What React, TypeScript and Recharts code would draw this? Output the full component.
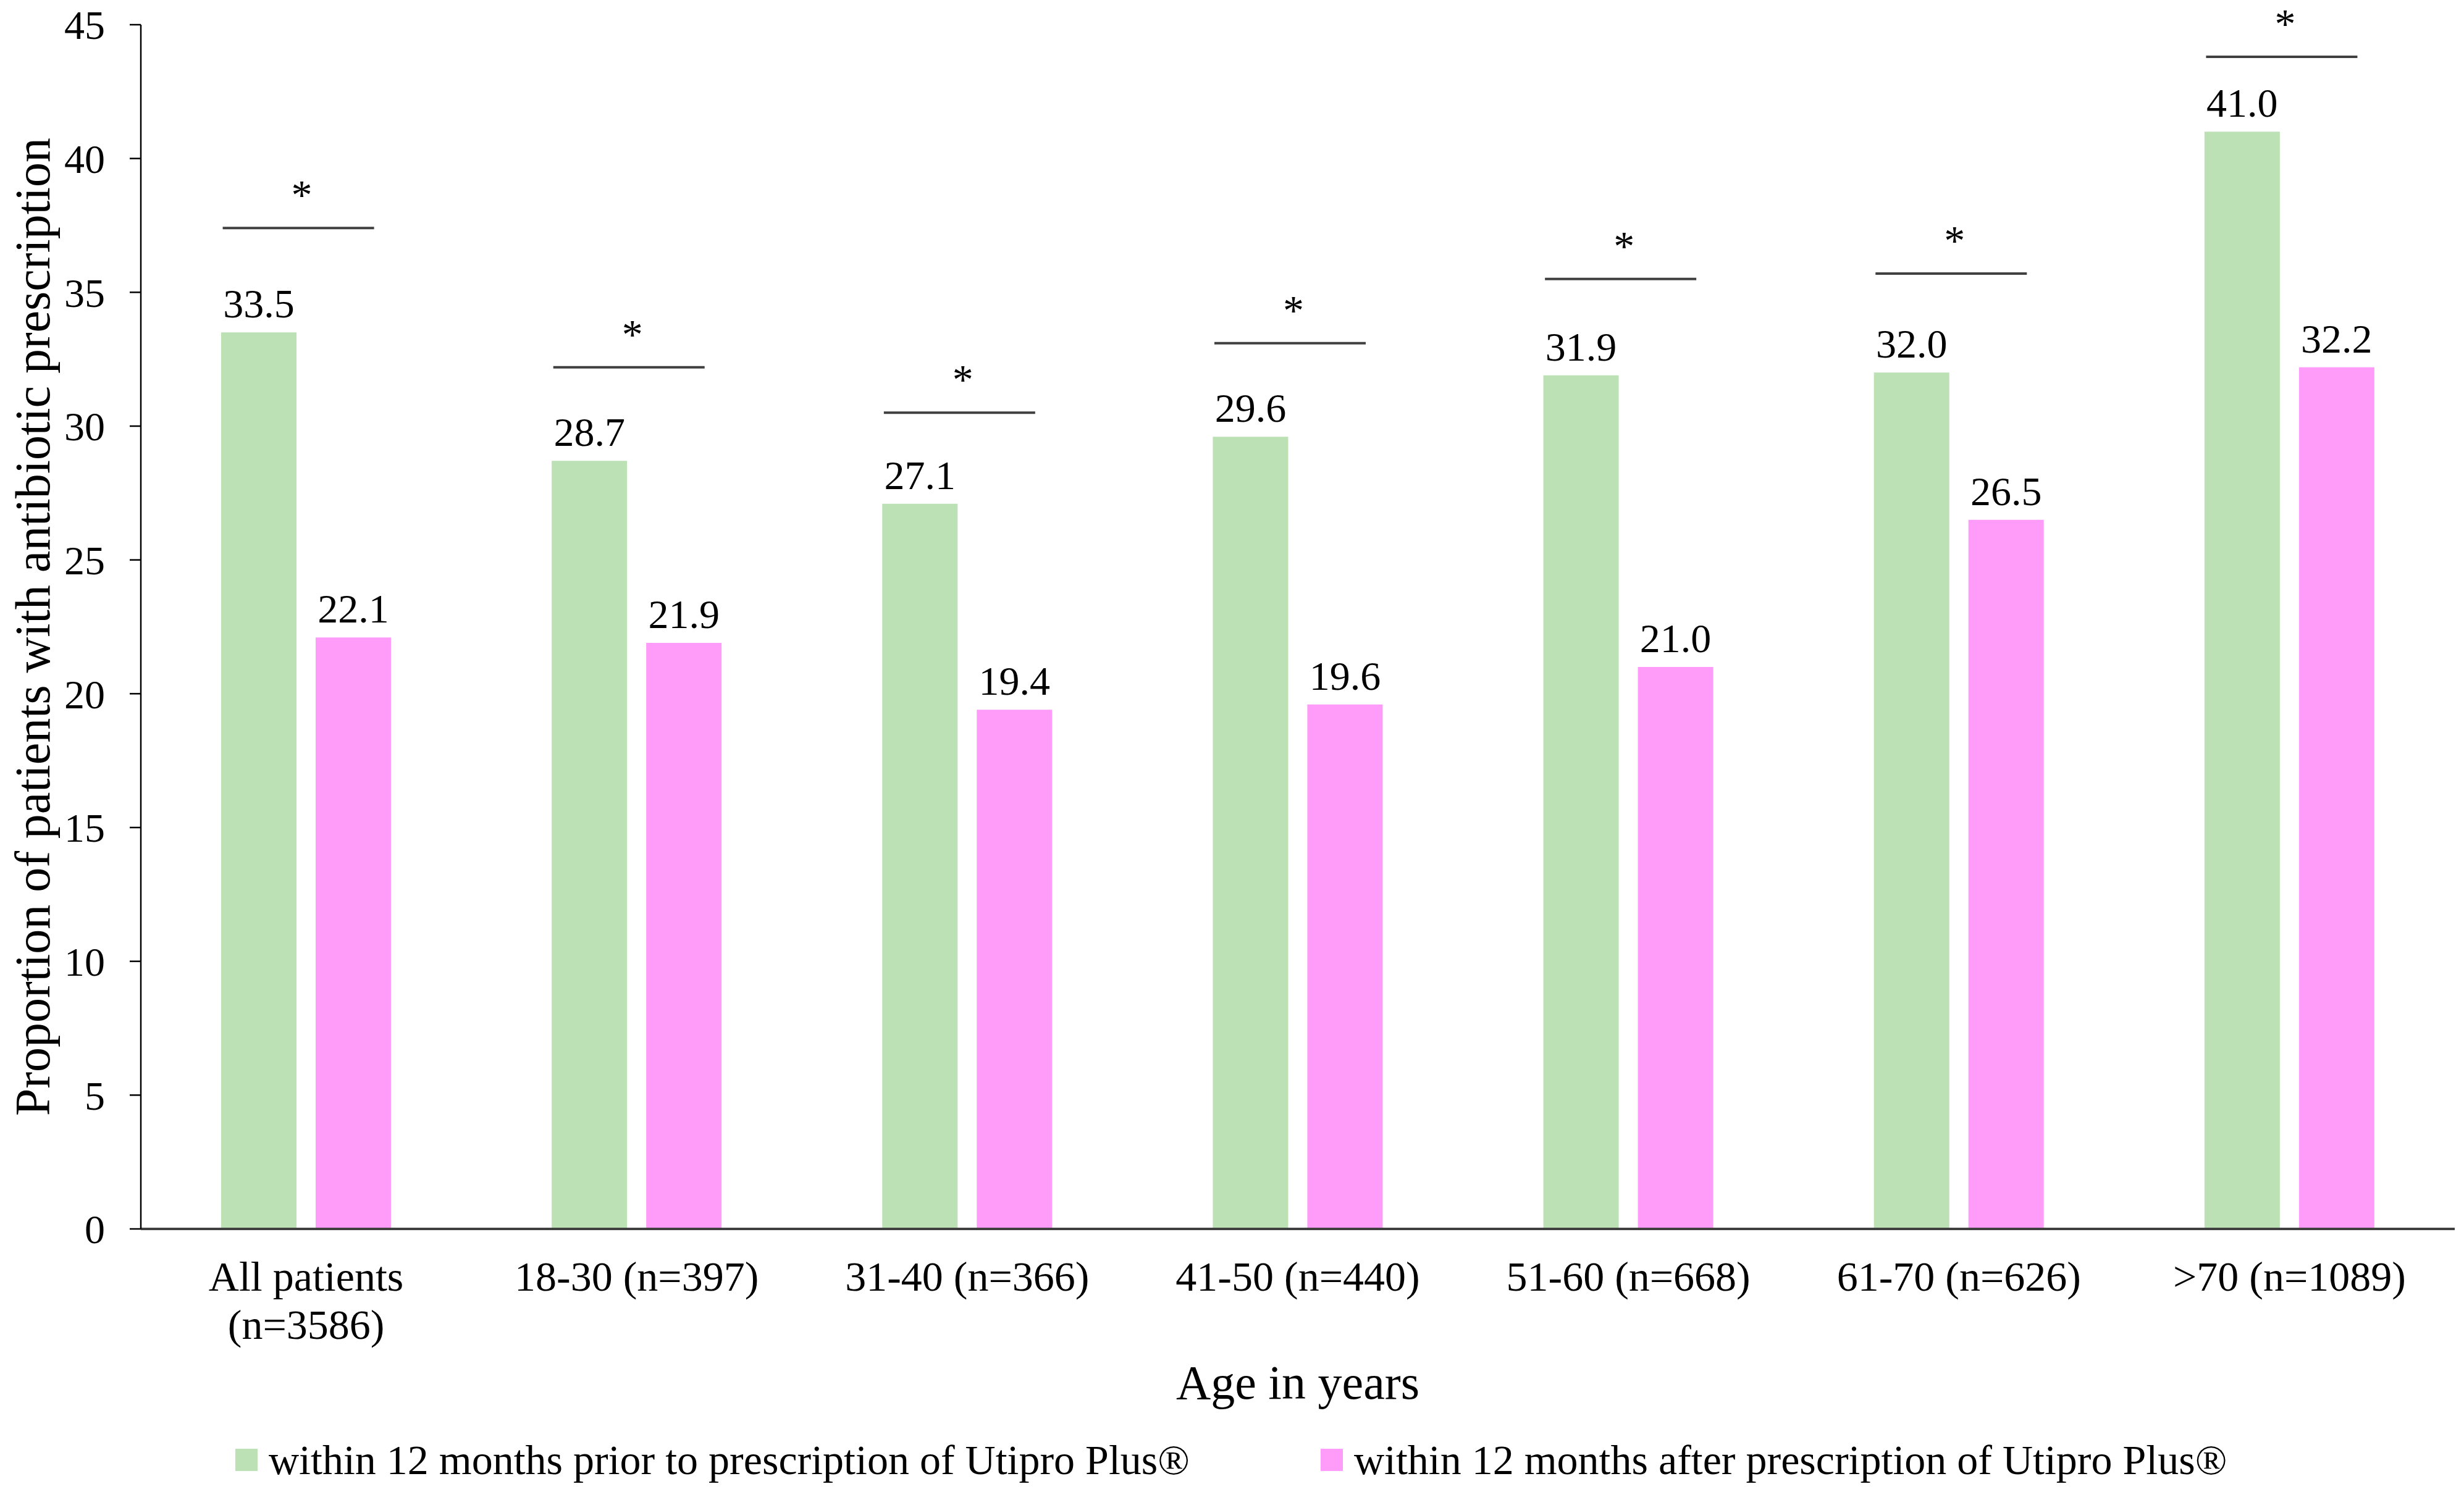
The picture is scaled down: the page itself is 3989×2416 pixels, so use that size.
import React from "react";
import {
  ComposedChart,
  Bar,
  Line,
  XAxis,
  YAxis,
  LabelList,
  Label,
  Legend,
} from "recharts";

const FONT = '"Liberation Serif", "Times New Roman", serif';

// categories on the x axis (a "\n" breaks the label onto two lines)
const categories = [
  "All patients\n(n=3586)",
  "18-30 (n=397)",
  "31-40 (n=366)",
  "41-50 (n=440)",
  "51-60 (n=668)",
  "61-70 (n=626)",
  ">70 (n=1089)",
];

// % of patients with antibiotic prescription
const priorValues = [33.5, 28.7, 27.1, 29.6, 31.9, 32.0, 41.0];
const afterValues = [22.1, 21.9, 19.4, 19.6, 21.0, 26.5, 32.2];

// height of the significance bar above each pair (y units)
const sigLevels = [37.4, 32.2, 30.5, 33.1, 35.5, 35.7, 43.8];

const yTicks = [0, 5, 10, 15, 20, 25, 30, 35, 40, 45];

const seriesNames = [
  "within 12 months prior to prescription of Utipro Plus®",
  "within 12 months after prescription of Utipro Plus®",
];

const GREEN = "#bbe1b4";
const PINK = "#ff9cfa";

const data = categories.map((name, i) => ({
  name,
  prior: priorValues[i],
  after: afterValues[i],
  sig: sigLevels[i],
}));

function CategoryTick({ x, y, payload }: any) {
  const lines = String(payload.value).split("\n");
  return (
    <text x={x} y={y} textAnchor="middle" fontFamily={FONT} fontSize={68} fill="#000">
      {lines.map((line, i) => (
        <tspan key={i} x={x} dy={i === 0 ? 100 : 78}>
          {line}
        </tspan>
      ))}
    </text>
  );
}

function SigMark({ cx, cy }: any) {
  if (cx == null || cy == null) return null;
  return (
    <g>
      <line x1={cx - 135} x2={cx + 110} y1={cy} y2={cy} stroke="#404040" strokeWidth={4} />
      <text x={cx - 7} y={cy - 31} textAnchor="middle" fontFamily={FONT} fontSize={68} fill="#000">
        *
      </text>
    </g>
  );
}

function YTitle({ viewBox }: any) {
  const x = viewBox.x + 80;
  const y = viewBox.y + viewBox.height / 2;
  return (
    <text
      x={x}
      y={y}
      transform={`rotate(-90 ${x} ${y})`}
      textAnchor="middle"
      fontFamily={FONT}
      fontSize={80}
      fill="#000"
    >
      Proportion of patients with antibiotic prescription
    </text>
  );
}

function XTitle({ viewBox }: any) {
  const x = viewBox.x + viewBox.width / 2;
  return (
    <text x={x} y={viewBox.y + 275} textAnchor="middle" fontFamily={FONT} fontSize={78} fill="#000">
      Age in years
    </text>
  );
}

function LegendContent({ payload }: any) {
  // keep the series order of the reference (prior first, then after)
  const items = seriesNames
    .map((name) => (payload || []).find((p: any) => p.value === name))
    .filter(Boolean);
  return (
    <div style={{ display: "flex", paddingLeft: 381, gap: 212, fontFamily: FONT, fontSize: 68 }}>
      {items.map((item: any) => (
        <div key={item.value} style={{ display: "flex", alignItems: "center", height: 80, lineHeight: "80px" }}>
          <span style={{ width: 36, height: 36, background: item.color, marginRight: 18, display: "inline-block" }} />
          <span style={{ color: "#000", whiteSpace: "nowrap" }}>{item.value}</span>
        </div>
      ))}
    </div>
  );
}

export default function App() {
  return (
    <div style={{ position: "absolute", left: 0, top: 0, background: "#fff" }}>
      <ComposedChart
        width={3989}
        height={2416}
        data={data}
        margin={{ top: 40, right: 15, bottom: 0, left: 0 }}
        barGap={31}
        barCategoryGap={0}
      >
        <XAxis
          dataKey="name"
          interval={0}
          height={426}
          tickLine={false}
          tickSize={0}
          tickMargin={0}
          axisLine={{ stroke: "#404040", strokeWidth: 4 }}
          tick={<CategoryTick />}
        >
          <Label content={<XTitle />} />
        </XAxis>
        <YAxis
          domain={[0, 45]}
          ticks={yTicks}
          width={228}
          tickSize={18}
          tickMargin={40}
          axisLine={{ stroke: "#000", strokeWidth: 2.5 }}
          tickLine={{ stroke: "#000", strokeWidth: 2.5 }}
          tick={{ fontSize: 66, fill: "#000", fontFamily: FONT }}
        >
          <Label content={<YTitle />} />
        </YAxis>
        <Legend
          layout="vertical"
          align="center"
          verticalAlign="middle"
          content={<LegendContent />}
          wrapperStyle={{ left: 0, top: 2324, width: 3989 }}
        />
        <Bar dataKey="prior" name={seriesNames[0]} fill={GREEN} barSize={122} isAnimationActive={false}>
          <LabelList
            dataKey="prior"
            position="top"
            offset={24}
            formatter={(v: any) => Number(v).toFixed(1)}
            style={{ fontSize: 66, fill: "#000", fontFamily: FONT }}
          />
        </Bar>
        <Bar dataKey="after" name={seriesNames[1]} fill={PINK} barSize={122} isAnimationActive={false}>
          <LabelList
            dataKey="after"
            position="top"
            offset={24}
            formatter={(v: any) => Number(v).toFixed(1)}
            style={{ fontSize: 66, fill: "#000", fontFamily: FONT }}
          />
        </Bar>
        <Line
          dataKey="sig"
          stroke="none"
          legendType="none"
          dot={<SigMark />}
          activeDot={false}
          isAnimationActive={false}
        />
      </ComposedChart>
    </div>
  );
}
